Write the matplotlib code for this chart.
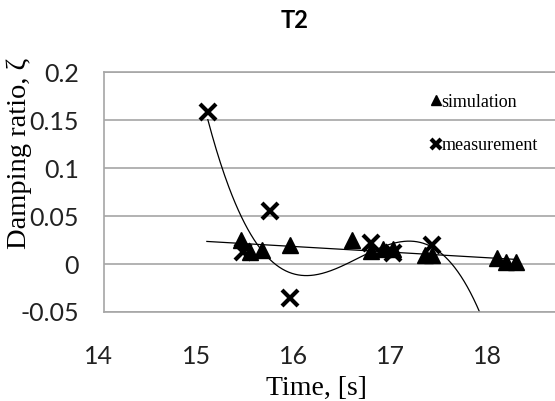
import matplotlib.pyplot as plt
import matplotlib.transforms as mtransforms
import numpy as np

# damping ratio of mode T2
sim_time = [15.41, 15.50, 15.63, 15.91, 16.55, 16.75, 16.87, 16.97, 17.30, 17.38, 18.04, 18.14, 18.24]
sim_zeta = [0.025, 0.0125, 0.0145, 0.020, 0.025, 0.014, 0.016, 0.016, 0.009, 0.009, 0.006, 0.002, 0.002]

meas_time = [15.07, 15.43, 15.71, 15.91, 16.75, 16.97, 17.38]
meas_zeta = [0.158, 0.013, 0.055, -0.035, 0.022, 0.011, 0.020]

xticks = [14, 15, 16, 17, 18]
yticks = [-0.05, 0, 0.05, 0.1, 0.15, 0.2]
ytick_labels = ['-0.05', '0', '0.05', '0.1', '0.15', '0.2']

fig = plt.figure(figsize=(5.55, 4.01), dpi=100)
ax = fig.add_axes([0.187, 0.222, 0.813, 0.598])

grid_c = '#a6a6a6'
for y in yticks:
    ax.axhline(y, color=grid_c, lw=1.2, zorder=0)

ax.plot(sim_time, sim_zeta, '^', color='black', ms=11, ls='none', label='simulation', zorder=3)
ax.plot(meas_time, meas_zeta, 'x', color='black', ms=12, mew=3, ls='none', label='measurement', zorder=3)

# trendlines: linear for simulation, cubic for measurement
p1 = np.polyfit(sim_time, sim_zeta, 1)
t1 = np.linspace(15.06, max(sim_time), 50)
ax.plot(t1, np.polyval(p1, t1), color='black', lw=0.9, zorder=2)

p3 = np.polyfit(meas_time, meas_zeta, 3)
t3 = np.linspace(min(meas_time), 18.3, 300)
ax.plot(t3, np.polyval(p3, t3), color='black', lw=0.9, zorder=2)

ax.set_xlim(14, 18.64)
ax.set_ylim(-0.05, 0.2)
ax.set_xticks(xticks)
ax.set_yticks(yticks)
ax.set_yticklabels(ytick_labels)
ax.tick_params(length=0, labelsize=18, labelcolor='#222222')
ax.tick_params(axis='y', pad=18)
ax.tick_params(axis='x', pad=24)
for lab in ax.get_xticklabels() + ax.get_yticklabels():
    lab.set_fontfamily('Lato')
shift = mtransforms.ScaledTranslation(-5 / 100, 0, fig.dpi_scale_trans)
for lab in ax.get_xticklabels():
    lab.set_transform(lab.get_transform() + shift)

for side in ['left', 'bottom', 'top']:
    ax.spines[side].set_color(grid_c)
    ax.spines[side].set_linewidth(1.2)
ax.spines['right'].set_visible(False)

ax.set_xlabel('Time, [s]', family='Liberation Serif', fontsize=20)
ax.xaxis.set_label_coords((317 - 104) / 451, -0.265)
ax.set_ylabel('Damping ratio, ζ', family='Liberation Serif', fontsize=20.5)
ax.yaxis.set_label_coords(-0.16, 0.66)

fig.text(295 / 555, 1 - 21 / 401, 'T2', ha='center', va='center',
         family='Lato', fontweight='bold', fontsize=17)

ax.legend(loc='upper left', bbox_to_anchor=(0.71, 0.94), frameon=False,
          prop={'family': 'Liberation Serif', 'size': 13}, markerscale=0.6,
          handlelength=0.5, handletextpad=0.05, labelspacing=1.45, borderaxespad=0)

fig.savefig('out.png', dpi=100)
